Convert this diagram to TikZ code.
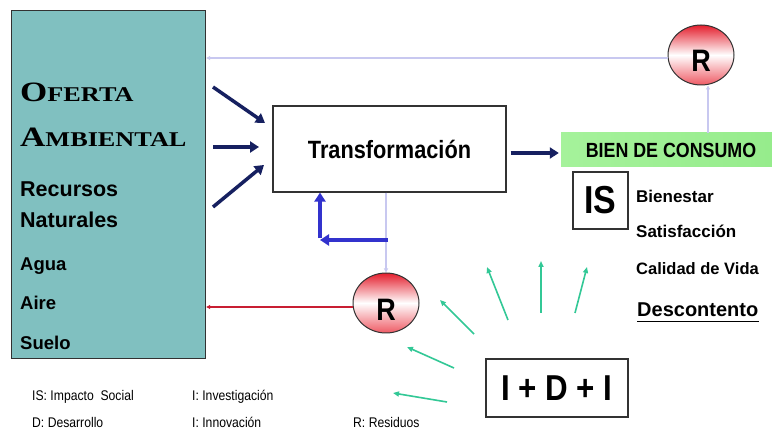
\documentclass[tikz,border=0pt]{standalone}
\usepackage{fontspec}
\setmainfont{Liberation Sans}
\newfontfamily\nar{Liberation Sans}[FakeStretch=0.87]
\newfontfamily\wideserif{Liberation Serif}[FakeStretch=1.25]
\usetikzlibrary{arrows.meta,shapes.geometric}
\definecolor{tealbox}{RGB}{128,192,192}
\definecolor{navy}{RGB}{22,32,96}
\definecolor{lav}{RGB}{200,200,240}
\definecolor{bluearr}{RGB}{50,50,205}
\definecolor{redline}{RGB}{200,30,50}
\definecolor{greenarr}{RGB}{50,200,150}
\definecolor{lgreen}{RGB}{150,236,140}
\definecolor{lgreen2}{RGB}{165,242,155}
\definecolor{rtop}{RGB}{228,30,45}
\definecolor{rbot}{RGB}{238,90,100}
\definecolor{edge}{RGB}{50,50,50}
\begin{document}
\begin{tikzpicture}[x=1pt,y=-1pt,
  txt/.style={anchor=base west, inner sep=0pt},
  box/.style={draw=edge, line width=1.2pt, inner sep=0pt},
  navyarrow/.style={navy, line width=3.5pt, -{Triangle[length=9pt,width=11pt]}},
  lavarrow/.style={lav, line width=1.3pt, -{Triangle[length=4pt,width=4pt]}},
  bluearrow/.style={bluearr, line width=3.5pt, -{Triangle[length=9pt,width=11pt]}},
  redarrow/.style={redline, line width=1.4pt, -{Triangle[length=4pt,width=4pt]}},
  grarrow/.style={greenarr, line width=1.6pt, -{Triangle[length=6pt,width=5pt]}},
  rcircle/.style={ellipse, draw=edge, line width=1pt, minimum width=66pt, minimum height=60pt, inner sep=0pt,
    top color=rtop, bottom color=rbot, middle color=white},
  rletter/.style={inner sep=0pt, font=\nar\bfseries\fontsize{31}{31}\selectfont}
]
\fill[white] (0,0) rectangle (772,430);
\useasboundingbox (0,0) rectangle (772,430);

% Oferta ambiental box
\node[box, fill=tealbox, minimum width=194pt, minimum height=348pt, anchor=north west] (oferta) at (11,10) {};
\node[txt] (t1) at (20,102) {\wideserif\bfseries\fontsize{28}{28}\selectfont O\fontsize{21}{21}\selectfont FERTA};
\node[txt] (t2) at (20,147) {\wideserif\bfseries\fontsize{28}{28}\selectfont A\fontsize{21}{21}\selectfont MBIENTAL};
\node[txt, font=\bfseries\fontsize{21.5}{21.5}\selectfont] (t3) at (20,197) {Recursos};
\node[txt, font=\bfseries\fontsize{21.5}{21.5}\selectfont] (t4) at (20,228) {Naturales};
\node[txt, font=\bfseries\fontsize{18.5}{18.5}\selectfont] (t5) at (20,271) {Agua};
\node[txt, font=\bfseries\fontsize{18.5}{18.5}\selectfont] (t6) at (20,310) {Aire};
\node[txt, font=\bfseries\fontsize{18.5}{18.5}\selectfont] (t7) at (20,350) {Suelo};

% Transformacion
\node[box, fill=white, minimum width=233pt, minimum height=86pt, font=\nar\bfseries\fontsize{25}{25}\selectfont] (trans) at (389.5,149) {Transformación};

% Bien de consumo
\node[left color=lgreen2, right color=lgreen, minimum width=211pt, minimum height=34pt, inner sep=0pt, font=\nar\bfseries\fontsize{20.5}{20.5}\selectfont] (bien) at (666.5,150) {\hspace*{9pt}BIEN DE CONSUMO};

% R circles
\node[rcircle] (r1) at (701,55) {};
\node[rletter] (r1t) at (701,61) {R};
\node[rcircle] (r2) at (386,303) {};
\node[rletter] (r2t) at (386,310) {R};

% IS box and texts
\node[box, minimum width=55pt, minimum height=57pt, font=\nar\bfseries\fontsize{39}{39}\selectfont] (is) at (600.5,200.5) {IS};
\node[txt, font=\bfseries\fontsize{17}{17}\selectfont] (bn) at (636,203) {Bienestar};
\node[txt, font=\bfseries\fontsize{17}{17}\selectfont] (sf) at (636,238) {Satisfacción};
\node[txt, font=\bfseries\fontsize{16.5}{16.5}\selectfont] (cv) at (636,275) {Calidad de Vida};
\node[txt, font=\bfseries\fontsize{20}{20}\selectfont] (desc) at (637,317) {Descontento};
\draw[line width=1.5pt] ([yshift=-4.5pt]desc.base west) -- ([yshift=-4.5pt]desc.base east);

% I+D+I
\node[box, minimum width=142pt, minimum height=58pt, font=\nar\bfseries\fontsize{36}{36}\selectfont] (idi) at (557,388) {I + D + I};

% Legend
\node[txt, font=\nar\fontsize{14}{14}\selectfont] (l1) at (32,401) {IS: Impacto\ \ Social};
\node[txt, font=\nar\fontsize{14}{14}\selectfont] (l2) at (192,401) {I: Investigación};
\node[txt, font=\nar\fontsize{14}{14}\selectfont] (l3) at (32,428) {D: Desarrollo};
\node[txt, font=\nar\fontsize{14}{14}\selectfont] (l4) at (192,428) {I: Innovación};
\node[txt, font=\nar\fontsize{14}{14}\selectfont] (l5) at (353,428) {R: Residuos};

% navy arrows into Transformacion
\coordinate (a1) at (213,87);  \coordinate (e1) at (265,123);
\coordinate (a2) at (213,147); \coordinate (e2) at (259,147);
\coordinate (a3) at (213,207); \coordinate (e3) at (264,165);
\draw[navyarrow] (a1) -- (e1);
\draw[navyarrow] (a2) -- (e2);
\draw[navyarrow] (a3) -- (e3);
\draw[navyarrow] ([xshift=4pt,yshift=-4pt]trans.east) -- ([xshift=-2pt,yshift=-3pt]bien.west);

% lavender lines
\coordinate (r1w) at ([yshift=-3pt]r1.west);
\draw[lavarrow] (r1w) -- (r1w -| oferta.east);
\coordinate (b1) at ([xshift=41.5pt]bien.north);
\draw[lavarrow] (b1) -- (b1 |- r1.south);
\draw[lavarrow] (r2.north |- trans.south) -- (r2.north);

% blue feedback arrow
\coordinate (bs) at (388,240);
\coordinate (bc) at (320,240);
\draw[bluearrow] (bs) -- (bc);
\draw[bluearrow] ([yshift=1.75pt]bc) -- (bc |- trans.south);

% red line
\coordinate (r2w) at ([yshift=-4pt]r2.west);
\draw[redarrow] (r2w) -- (r2w -| oferta.east);

% green arrows
\coordinate (g1s) at (474,334); \coordinate (g1e) at (440,300);
\coordinate (g2s) at (454,368); \coordinate (g2e) at (407,347);
\coordinate (g3s) at (447,402); \coordinate (g3e) at (393,393);
\coordinate (g4s) at (508,320); \coordinate (g4e) at (487,267);
\coordinate (g5s) at (541,313); \coordinate (g5e) at (541,261);
\coordinate (g6s) at (575,313); \coordinate (g6e) at (587,267);
\foreach \i in {1,...,6} {\draw[grarrow] (g\i s) -- (g\i e);}
\end{tikzpicture}
\end{document}
